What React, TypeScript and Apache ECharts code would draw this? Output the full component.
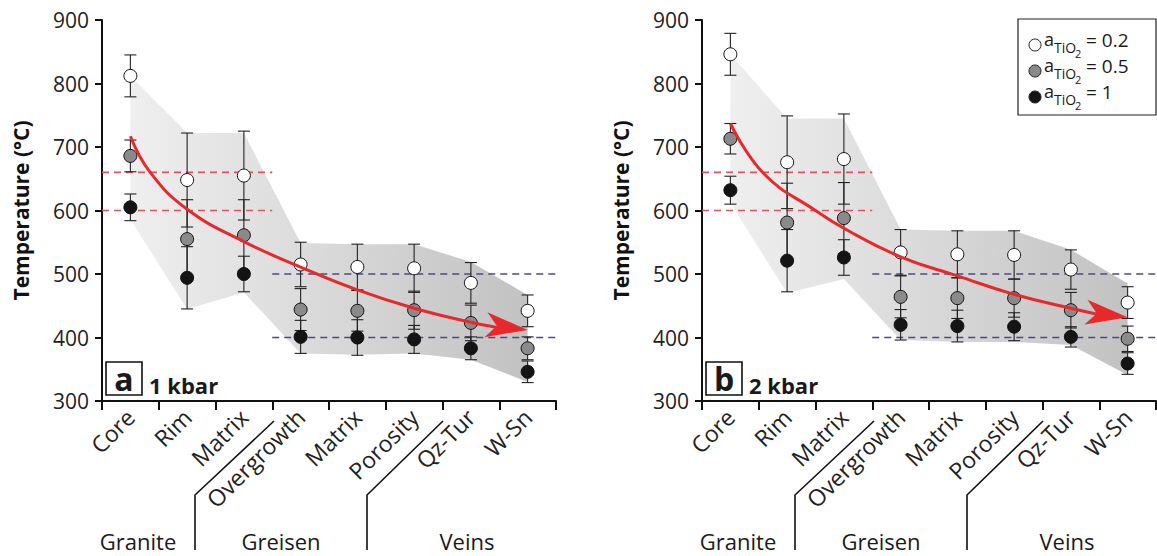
import React, { useEffect, useRef } from 'react';
import * as echarts from 'echarts';

const FONT = '"Open Sans", "Noto Sans", sans-serif';

const categories = ['Core', 'Rim', 'Matrix', 'Overgrowth', 'Matrix', 'Porosity', 'Qz-Tur', 'W-Sn'];
const groupNames = ['Granite', 'Greisen', 'Veins'];
const panelTags = ['a', 'b'];
const panelPressures = ['1 kbar', '2 kbar'];
const legendValues = ['0.2', '0.5', '1'];

// Panel a — 1 kbar
const a02 = [812, 648, 655, 515, 511, 509, 486, 442];
const a02err = [33, 74, 70, 35, 36, 38, 32, 25];
const a05 = [686, 555, 561, 444, 442, 443, 423, 383];
const a05err = [25, 62, 56, 33, 32, 30, 28, 18];
const a1 = [605, 494, 500, 401, 400, 397, 383, 346];
const a1err = [21, 49, 28, 26, 28, 22, 18, 17];
const aBandTop = [812, 722, 722, 549, 547, 547, 519, 467];
const aBandBottom = [586, 445, 471, 375, 373, 375, 365, 330];
// trend curve: [position along axis (0–8), °C]
const aTrendX = [0.5, 0.85, 1.5, 2.5, 3.5, 4.5, 5.5, 6.5, 7.5];
const aTrendY = [717, 660, 602, 551, 511, 475, 446, 424, 412];

// Panel b — 2 kbar
const b02 = [846, 676, 681, 534, 531, 530, 507, 455];
const b02err = [33, 73, 71, 36, 37, 38, 31, 25];
const b05 = [713, 581, 588, 464, 462, 462, 443, 398];
const b05err = [24, 62, 56, 33, 32, 30, 28, 20];
const b1 = [632, 521, 526, 420, 418, 417, 401, 359];
const b1err = [22, 49, 28, 24, 25, 22, 16, 17];
const bBandTop = [846, 745, 745, 570, 568, 568, 538, 485];
const bBandBottom = [612, 470, 492, 396, 393, 393, 388, 341];
const bTrendX = [0.5, 1.1, 2.0, 2.5, 3.5, 4.5, 5.5, 6.5, 7.5];
const bTrendY = [737, 657, 600, 572, 527, 497, 468, 446, 432];

// reference ranges (dashed lines)
const graniteRange = [660, 600];
const veinRange = [500, 400];

const dotColors = ['#ffffff', '#8a8a8a', '#141414'];
const RED = '#e8292c';

type Panel = {
  vals: number[][];
  errs: number[][];
  top: number[];
  bottom: number[];
  tx: number[];
  ty: number[];
};

const panels: Panel[] = [
  { vals: [a02, a05, a1], errs: [a02err, a05err, a1err], top: aBandTop, bottom: aBandBottom, tx: aTrendX, ty: aTrendY },
  { vals: [b02, b05, b1], errs: [b02err, b05err, b1err], top: bBandTop, bottom: bBandBottom, tx: bTrendX, ty: bTrendY },
];

const errRender = (params: any, api: any) => {
  const x = api.value(0);
  const lo = api.value(1);
  const hi = api.value(2);
  const p1 = api.coord([x, hi]);
  const p2 = api.coord([x, lo]);
  const hw = 6;
  const style = { stroke: '#222', lineWidth: 1.1, fill: null };
  return {
    type: 'group',
    children: [
      { type: 'line', shape: { x1: p1[0], y1: p1[1], x2: p2[0], y2: p2[1] }, style },
      { type: 'line', shape: { x1: p1[0] - hw, y1: p1[1], x2: p1[0] + hw, y2: p1[1] }, style },
      { type: 'line', shape: { x1: p2[0] - hw, y1: p2[1], x2: p2[0] + hw, y2: p2[1] }, style },
    ],
  };
};

const arrowRender = (params: any, api: any) => {
  const p = api.coord([api.value(0), api.value(1)]);
  const ang = (7 * Math.PI) / 180;
  const d = [Math.cos(ang), Math.sin(ang)];
  const n = [-d[1], d[0]];
  const L = 42;
  const W = 12.5;
  const N = 31;
  const pt = (a: number, b: number) => [p[0] - d[0] * a + n[0] * b, p[1] - d[1] * a + n[1] * b];
  return {
    type: 'polygon',
    shape: { points: [[p[0], p[1]], pt(L, W), pt(N, 0), pt(L, -W)] },
    style: { fill: RED },
  };
};

function buildSeries(p: Panel, idx: number) {
  const xi = idx;
  const xv = idx + 2;
  const yi = idx;
  const s: any[] = [];
  s.push({
    type: 'line', xAxisIndex: xi, yAxisIndex: yi, stack: 'band' + idx, data: p.bottom,
    symbol: 'none', lineStyle: { opacity: 0 }, z: 1, silent: true,
  });
  s.push({
    type: 'line', xAxisIndex: xi, yAxisIndex: yi, stack: 'band' + idx,
    data: p.top.map((t, i) => t - p.bottom[i]),
    symbol: 'none', lineStyle: { opacity: 0 }, z: 1, silent: true,
    areaStyle: {
      opacity: 1,
      color: new echarts.graphic.LinearGradient(0, 0, 1, 0, [
        { offset: 0, color: '#efefef' },
        { offset: 1, color: '#c2c2c2' },
      ]),
    },
  });
  graniteRange.forEach((v) => {
    s.push({
      type: 'line', xAxisIndex: xv, yAxisIndex: yi, data: [[0, v], [3, v]], symbol: 'none', z: 2,
      lineStyle: { color: '#e0555c', width: 1.6, type: [7, 5] }, silent: true,
    });
  });
  veinRange.forEach((v) => {
    s.push({
      type: 'line', xAxisIndex: xv, yAxisIndex: yi, data: [[3, v], [8, v]], symbol: 'none', z: 2,
      lineStyle: { color: '#4a4c80', width: 1.6, type: [7, 5] }, silent: true,
    });
  });
  p.vals.forEach((vals, k) => {
    s.push({
      type: 'custom', xAxisIndex: xi, yAxisIndex: yi, renderItem: errRender, z: 3,
      encode: { x: 0, y: [1, 2] },
      data: vals.map((v, i) => [i, v - p.errs[k][i], v + p.errs[k][i]]),
    });
  });
  p.vals.forEach((vals, k) => {
    s.push({
      type: 'scatter', xAxisIndex: xi, yAxisIndex: yi, data: vals, z: 4,
      symbol: 'circle', symbolSize: 13,
      itemStyle: { color: dotColors[k], borderColor: '#111', borderWidth: 1, opacity: 1 },
    });
  });
  const last = p.tx.length - 1;
  s.push({
    type: 'line', xAxisIndex: xv, yAxisIndex: yi, z: 5,
    data: p.tx.map((x, i) => [i === last ? x - 0.3 : x, p.ty[i]]),
    smooth: 0.45, symbol: 'none',
    lineStyle: { color: RED, width: 3 },
  });
  s.push({
    type: 'custom', xAxisIndex: xv, yAxisIndex: yi, z: 6, renderItem: arrowRender,
    encode: { x: 0, y: 1 },
    data: [[p.tx[last], p.ty[last]]],
  });
  return s;
}

const mkX = (gridIndex: number) => ({
  type: 'category', gridIndex, data: categories, boundaryGap: true,
  axisLine: { show: true, lineStyle: { color: '#111', width: 2 } },
  axisTick: { show: true, length: 9, interval: 0, lineStyle: { color: '#111', width: 2 } },
  axisLabel: { rotate: 45, interval: 0, fontSize: 23, color: '#222', fontFamily: FONT, margin: 12 },
  splitLine: { show: false },
});

const mkXv = (gridIndex: number) => ({
  type: 'value', gridIndex, min: 0, max: 8, show: false,
});

const mkY = (gridIndex: number) => ({
  type: 'value', gridIndex, min: 300, max: 900, interval: 100,
  name: 'Temperature (°C)', nameLocation: 'middle', nameGap: 71, nameRotate: 90,
  nameTextStyle: { fontSize: 21, fontWeight: 'bold', color: '#111', fontFamily: FONT },
  axisLine: { show: true, lineStyle: { color: '#111', width: 2 } },
  axisTick: { show: true, length: 7, lineStyle: { color: '#111', width: 2 } },
  axisLabel: { fontSize: 21, color: '#222', fontFamily: FONT, margin: 13 },
  splitLine: { show: false },
});

const gridLefts = [102, 702];

function buildGraphic() {
  const g: any[] = [];
  const txt = (x: number, y: number, text: string, size: number, weight = 'normal', align = 'left') => ({
    type: 'text', x, y, z: 10,
    style: { text, fontSize: size, fontWeight: weight, fontFamily: FONT, fill: '#1a1a1a', align, verticalAlign: 'middle' },
  });
  gridLefts.forEach((gl, p) => {
    const off = gl - 102;
    g.push(txt(138 + off, 541, groupNames[0], 22, 'normal', 'center'));
    g.push(txt(281 + off, 541, groupNames[1], 22, 'normal', 'center'));
    g.push(txt(467 + off, 541, groupNames[2], 22, 'normal', 'center'));
    g.push({
      type: 'polyline', z: 10,
      shape: { points: [[274 + off, 421], [195 + off, 495], [195 + off, 550]] },
      style: { stroke: '#111', lineWidth: 1.6, fill: null },
    });
    g.push({
      type: 'polyline', z: 10,
      shape: { points: [[443 + off, 421], [367 + off, 495], [367 + off, 550]] },
      style: { stroke: '#111', lineWidth: 1.6, fill: null },
    });
    g.push({
      type: 'rect', z: 10, shape: { x: 106 + off, y: 362, width: 36, height: 33 },
      style: { fill: '#fff', stroke: '#111', lineWidth: 1.6 },
    });
    g.push(txt(124 + off, 378, panelTags[p], 32, 'bold', 'center'));
    g.push(txt(149 + off, 385, panelPressures[p], 22, 'bold', 'left'));
  });
  g.push({
    type: 'rect', z: 10, shape: { x: 1018, y: 19, width: 138, height: 96 },
    style: { fill: '#fff', stroke: '#222', lineWidth: 1.2 },
  });
  const rows = [45, 71, 97];
  rows.forEach((ry, k) => {
    g.push({
      type: 'circle', z: 11, shape: { cx: 1035, cy: ry, r: 6 },
      style: { fill: dotColors[k], stroke: '#222', lineWidth: 1 },
    });
    g.push(txt(1044, ry - 6, 'a', 18));
    g.push(txt(1054, ry + 2, 'TiO', 14));
    g.push(txt(1075, ry + 8, '2', 11));
    g.push(txt(1086, ry - 5, '= ' + legendValues[k], 19));
  });
  return g;
}

const option: any = {
  animation: false,
  backgroundColor: '#ffffff',
  textStyle: { fontFamily: FONT },
  grid: [
    { left: 102, top: 20, width: 454, height: 381, containLabel: false },
    { left: 702, top: 20, width: 454, height: 381, containLabel: false },
  ],
  xAxis: [mkX(0), mkX(1), mkXv(0), mkXv(1)],
  yAxis: [mkY(0), mkY(1)],
  series: [...buildSeries(panels[0], 0), ...buildSeries(panels[1], 1)],
  graphic: buildGraphic(),
};

export default function App() {
  const ref = useRef<HTMLDivElement>(null);
  useEffect(() => {
    const chart = echarts.init(ref.current as HTMLDivElement, undefined, { renderer: 'svg' });
    chart.setOption(option);
    return () => chart.dispose();
  }, []);
  return (
    <div
      ref={ref}
      style={{ position: 'absolute', left: 0, top: 0, width: 1157, height: 556, background: '#fff' }}
    />
  );
}
